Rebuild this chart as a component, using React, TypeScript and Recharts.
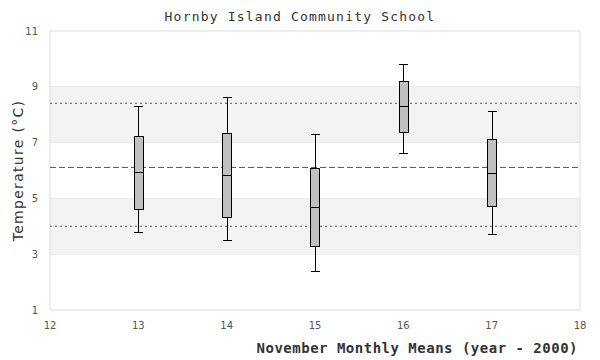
import React from "react";
import {
  Bar,
  CartesianGrid,
  ComposedChart,
  Label,
  ReferenceArea,
  ReferenceLine,
  XAxis,
  YAxis,
} from "recharts";

// November monthly means, year - 2000
const years = [13, 14, 15, 16, 17];
const whiskerLow = [3.78, 3.5, 2.39, 6.62, 3.71];
const boxLow = [4.61, 4.33, 3.28, 7.37, 4.72];
const medians = [5.94, 5.83, 4.68, 8.3, 5.9];
const boxHigh = [7.23, 7.33, 6.08, 9.2, 7.12];
const whiskerHigh = [8.3, 8.62, 7.28, 9.81, 8.12];

const xTicks = [12, 13, 14, 15, 16, 17, 18];
const yTicks = [1, 3, 5, 7, 9, 11];
const bands = [
  [3, 5],
  [7, 9],
];
const overallMean = 6.11;
const sdLines = [8.41, 4.0];

const data = years.map((year, i) => ({
  year,
  range: [whiskerLow[i], whiskerHigh[i]],
  q1: boxLow[i],
  med: medians[i],
  q3: boxHigh[i],
}));

const tickStyle = { fill: "#555", fontSize: 10, fontFamily: "DejaVu Sans" };

// draws whiskers, box and median inside the whisker range rect
const BoxShape = (props: any) => {
  const { x, y, width, height, payload } = props;
  const [lo, hi] = payload.range;
  const toY = (v: number) => y + (height * (hi - v)) / (hi - lo);
  const cx = x + width / 2;
  const yQ1 = toY(payload.q1);
  const yQ3 = toY(payload.q3);
  const yMed = toY(payload.med);
  return (
    <g shapeRendering="crispEdges">
      <line x1={cx} x2={cx} y1={y} y2={y + height} stroke="#000" />
      <line x1={x} x2={x + width} y1={y} y2={y} stroke="#000" />
      <line x1={x} x2={x + width} y1={y + height} y2={y + height} stroke="#000" />
      <rect x={x} y={yQ3} width={width} height={yQ1 - yQ3} fill="#c0c0c0" stroke="#000" />
      <line x1={x} x2={x + width} y1={yMed} y2={yMed} stroke="#000" />
    </g>
  );
};

export default function App() {
  return (
    <div style={{ position: "relative", width: 600, height: 360 }}>
      <style>{"body{margin:0}"}</style>
      <div
        style={{
          position: "absolute",
          top: 10,
          left: 0,
          width: 600,
          textAlign: "center",
          fontFamily: "DejaVu Sans Mono",
          fontSize: 13,
          lineHeight: "13px",
          letterSpacing: 1.2,
          color: "#333",
        }}
      >
        Hornby Island Community School
      </div>
      <ComposedChart
        width={600}
        height={360}
        data={data}
        margin={{ top: 31, right: 20, left: 0, bottom: 0 }}
      >
        {bands.map(([a, b]) => (
          <ReferenceArea
            key={a}
            y1={a}
            y2={b}
            fill="#f3f3f3"
            fillOpacity={1}
            stroke="none"
          />
        ))}
        <CartesianGrid vertical={false} stroke="#dedede" />
        <ReferenceLine x={12} stroke="#dedede" />
        <ReferenceLine x={18} stroke="#dedede" />
        <ReferenceLine y={overallMean} stroke="#555" strokeDasharray="6 3" />
        {sdLines.map((v) => (
          <ReferenceLine key={v} y={v} stroke="#555" strokeDasharray="2 3" />
        ))}
        <XAxis
          dataKey="year"
          type="number"
          domain={[12, 18]}
          ticks={xTicks}
          height={50}
          axisLine={false}
          tickLine={false}
          tickMargin={6}
          tick={tickStyle}
        >
          <Label
            content={({ viewBox }: any) => (
              <text
                x={viewBox.x + viewBox.width - 2}
                y={viewBox.y + 38}
                textAnchor="end"
                dominantBaseline="central"
                fontFamily="DejaVu Sans Mono"
                fontWeight="bold"
                fontSize={14}
                letterSpacing={0.5}
                fill="#333"
              >
                November Monthly Means (year - 2000)
              </text>
            )}
          />
        </XAxis>
        <YAxis
          type="number"
          domain={[1, 11]}
          ticks={yTicks}
          width={50}
          axisLine={false}
          tickLine={false}
          tickMargin={6}
          tick={tickStyle}
        >
          <Label
            content={({ viewBox }: any) => {
              const cx = viewBox.x + 18;
              const cy = viewBox.y + viewBox.height / 2;
              return (
                <text
                  x={cx}
                  y={cy}
                  transform={`rotate(-90 ${cx} ${cy})`}
                  textAnchor="middle"
                  dominantBaseline="central"
                  fontFamily="DejaVu Sans"
                  fontSize={14}
                  letterSpacing={1.3}
                  fill="#333"
                >
                  Temperature (°C)
                </text>
              );
            }}
          />
        </YAxis>
        <Bar
          dataKey="range"
          barSize={9}
          shape={BoxShape}
          isAnimationActive={false}
          zIndex={1000}
        />
      </ComposedChart>
    </div>
  );
}
